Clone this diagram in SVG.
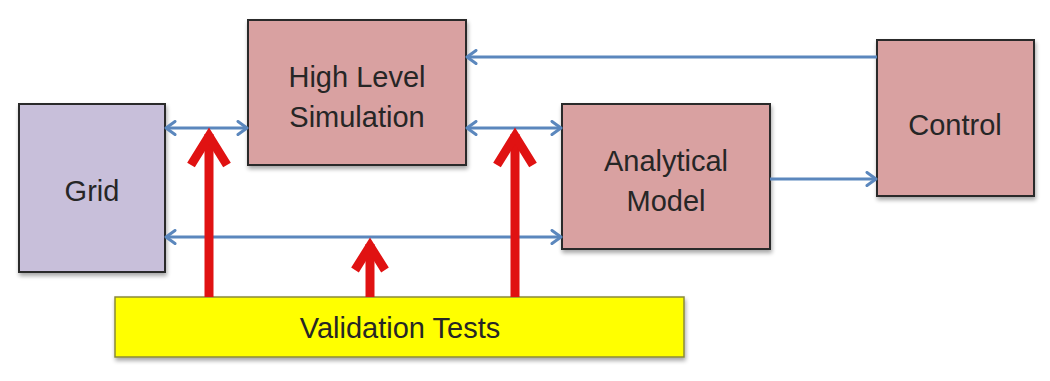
<svg xmlns="http://www.w3.org/2000/svg" width="1050" height="381" viewBox="0 0 1050 381">
  <defs>
    <filter id="shadow" x="-10%" y="-10%" width="125%" height="130%">
      <feGaussianBlur in="SourceAlpha" stdDeviation="2"/>
      <feOffset dx="1" dy="3" result="b"/>
      <feComponentTransfer><feFuncA type="linear" slope="0.35"/></feComponentTransfer>
      <feMerge><feMergeNode/><feMergeNode in="SourceGraphic"/></feMerge>
    </filter>
    <marker id="blueHead" viewBox="0 0 14 16" refX="12" refY="8" markerWidth="14" markerHeight="16" markerUnits="userSpaceOnUse" orient="auto-start-reverse">
      <polyline points="3,1.5 12,8 3,14.5" fill="none" stroke="#5b87bd" stroke-width="3" stroke-linecap="round" stroke-linejoin="round"/>
    </marker>
  </defs>
  <style>
    .box { stroke: #2b2b2b; stroke-width: 2; filter: url(#shadow); }
    .grid { fill: #c8bfda; }
    .pink { fill: #d9a1a1; }
    .yellow { fill: #ffff00; stroke: #8a8a3a; stroke-width: 1.5; filter: url(#shadow); }
    .label { font-family: "Liberation Sans", Arial, sans-serif; font-size: 29px; fill: #262626; text-anchor: middle; }
    .blue { fill: none; stroke: #5b87bd; stroke-width: 3; }
    .red { fill: none; stroke: #e01212; stroke-width: 9; stroke-linejoin: miter; }
  </style>

  <rect x="0" y="0" width="1050" height="381" fill="#ffffff"/>

  <g id="grid">
    <rect class="box grid" x="19" y="104" width="146" height="168"/>
    <text class="label" x="92" y="201">Grid</text>
  </g>

  <g id="high-level-simulation">
    <rect class="box pink" x="248" y="20" width="218" height="145"/>
    <text class="label" x="357" y="87">High Level</text>
    <text class="label" x="357" y="127">Simulation</text>
  </g>

  <g id="analytical-model">
    <rect class="box pink" x="562" y="104" width="208" height="145"/>
    <text class="label" x="666" y="171">Analytical</text>
    <text class="label" x="666" y="211">Model</text>
  </g>

  <g id="control">
    <rect class="box pink" x="877" y="40" width="157" height="156"/>
    <text class="label" x="955" y="135">Control</text>
  </g>

  <g id="validation-tests">
    <rect class="yellow" x="115" y="297" width="569" height="60"/>
    <text class="label" x="400" y="338">Validation Tests</text>
  </g>

  <g id="connectors">
    <!-- blue data links -->
    <line class="blue" x1="166" y1="128" x2="247" y2="128" marker-start="url(#blueHead)" marker-end="url(#blueHead)"/>
    <line class="blue" x1="467" y1="128" x2="561" y2="128" marker-start="url(#blueHead)" marker-end="url(#blueHead)"/>
    <line class="blue" x1="166" y1="237" x2="561" y2="237" marker-start="url(#blueHead)" marker-end="url(#blueHead)"/>
    <line class="blue" x1="877" y1="57" x2="467" y2="57" marker-end="url(#blueHead)"/>
    <line class="blue" x1="770" y1="179" x2="876" y2="179" marker-end="url(#blueHead)"/>

    <!-- red validation arrows -->
    <line class="red" x1="209" y1="297" x2="209" y2="134"/>
    <polyline class="red" points="191,165 209,136 227,165"/>
    <line class="red" x1="515" y1="297" x2="515" y2="134"/>
    <polyline class="red" points="497,165 515,136 533,165"/>
    <line class="red" x1="370" y1="297" x2="370" y2="244"/>
    <polyline class="red" points="355,270 370,246 385,270"/>
  </g>
</svg>
